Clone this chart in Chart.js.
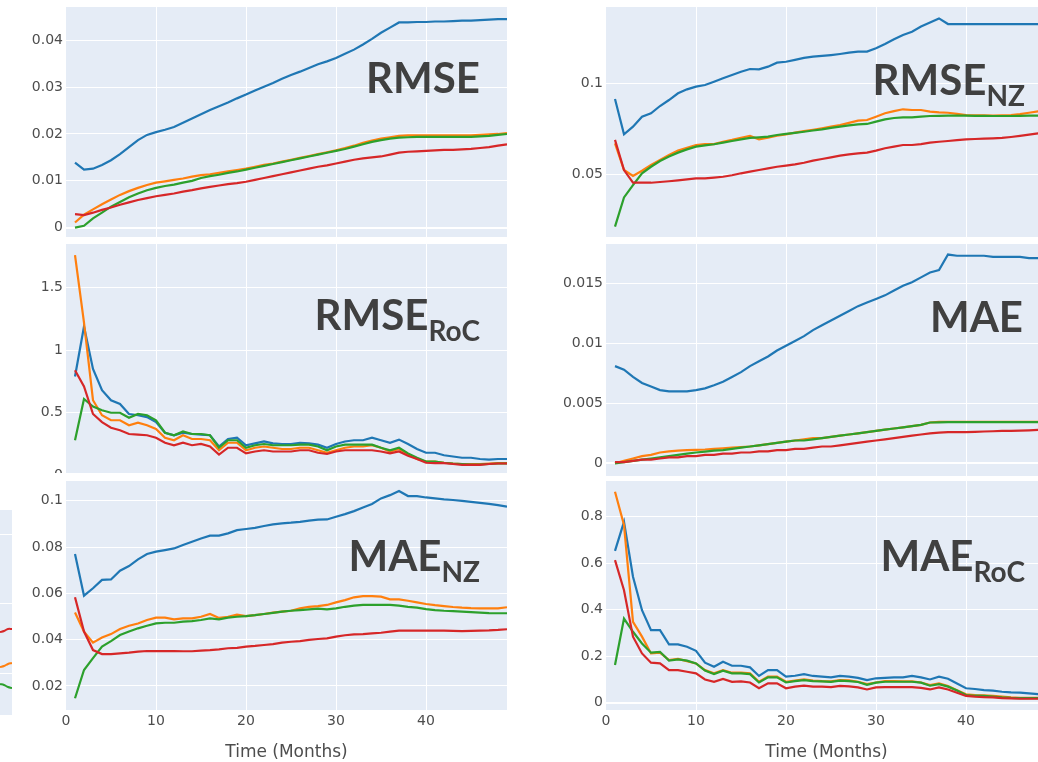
<!DOCTYPE html>
<html>
<head>
<meta charset="utf-8">
<script src="https://cdn.jsdelivr.net/npm/chart.js@4.4.0/dist/chart.umd.min.js"></script>
<style>
html,body{margin:0;padding:0;background:#fff;overflow:hidden;}
#page{position:relative;width:1038px;height:762px;overflow:hidden;background:#fff;}
canvas{position:absolute;display:block;}
.clip{position:absolute;overflow:hidden;}
.ttl{position:absolute;z-index:10;font-family:Lato,'Open Sans',sans-serif;font-weight:700;font-size:42px;line-height:42px;color:#404040;text-align:right;white-space:nowrap;}
.ttl sub{font-size:28px;line-height:1;vertical-align:-11px;}
</style>
</head>
<body>
<div id="page">
  <div class="clip" id="clip3" style="left:0;top:238px;width:515px;height:235px;"></div>
  <div class="ttl" style="left:0;width:480px;top:56px;">RMSE</div>
  <div class="ttl" style="left:540px;width:485px;top:58px;">RMSE<sub>NZ</sub></div>
  <div class="ttl" style="left:0;width:480px;top:293px;">RMSE<sub>RoC</sub></div>
  <div class="ttl" style="left:540px;width:483px;top:295px;">MAE</div>
  <div class="ttl" style="left:0;width:480px;top:534px;">MAE<sub>NZ</sub></div>
  <div class="ttl" style="left:540px;width:485px;top:534px;">MAE<sub>RoC</sub></div>
</div>
<script>
// ---------- data ----------
const months = [1,2,3,4,5,6,7,8,9,10,11,12,13,14,15,16,17,18,19,20,21,22,23,24,25,26,27,28,29,30,31,32,33,34,35,36,37,38,39,40,41,42,43,44,45,46,47,48,49];
const xTicks = [0,10,20,30,40];
const seriesColors = ['#1f77b4','#ff7f0e','#2ca02c','#d62728'];

// RMSE
const rmseBlue   = [0.0139,0.0124,0.0126,0.0134,0.0144,0.0157,0.0172,0.0187,0.0198,0.0204,0.0209,0.0215,0.0224,0.0233,0.0242,0.0251,0.0259,0.0267,0.0276,0.0284,0.0293,0.0301,0.0309,0.0318,0.0326,0.0333,0.0341,0.0349,0.0355,0.0362,0.0371,0.0380,0.0391,0.0403,0.0416,0.0427,0.0438,0.0438,0.0439,0.0439,0.0440,0.0440,0.0441,0.0442,0.0442,0.0443,0.0444,0.0445,0.0445];
const rmseOrange = [0.0011,0.0028,0.0039,0.0050,0.0060,0.0070,0.0078,0.0085,0.0091,0.0096,0.0099,0.0102,0.0105,0.0109,0.0112,0.0114,0.0117,0.0120,0.0123,0.0126,0.0130,0.0134,0.0137,0.0141,0.0145,0.0149,0.0153,0.0157,0.0161,0.0165,0.0170,0.0175,0.0181,0.0186,0.0190,0.0193,0.0196,0.0197,0.0197,0.0197,0.0197,0.0197,0.0197,0.0197,0.0197,0.0198,0.0199,0.0200,0.0202];
const rmseGreen  = [0.0000,0.0004,0.0020,0.0032,0.0045,0.0055,0.0065,0.0073,0.0080,0.0085,0.0089,0.0092,0.0096,0.0100,0.0106,0.0110,0.0113,0.0117,0.0120,0.0124,0.0128,0.0132,0.0136,0.0140,0.0144,0.0148,0.0152,0.0156,0.0160,0.0164,0.0168,0.0173,0.0178,0.0183,0.0187,0.0190,0.0192,0.0193,0.0194,0.0194,0.0194,0.0194,0.0194,0.0194,0.0194,0.0195,0.0196,0.0198,0.0200];
const rmseRed    = [0.0029,0.0027,0.0032,0.0038,0.0043,0.0049,0.0054,0.0059,0.0063,0.0067,0.0070,0.0073,0.0077,0.0080,0.0084,0.0087,0.0090,0.0093,0.0095,0.0098,0.0102,0.0106,0.0110,0.0114,0.0118,0.0122,0.0126,0.0130,0.0133,0.0137,0.0141,0.0145,0.0148,0.0150,0.0152,0.0156,0.0160,0.0162,0.0163,0.0164,0.0165,0.0166,0.0166,0.0167,0.0168,0.0170,0.0172,0.0175,0.0178];
const rmseTicks  = [0,0.01,0.02,0.03,0.04];

// RMSE_NZ
const rmseNzBlue   = [0.0914,0.0719,0.0761,0.0816,0.0835,0.0875,0.0908,0.0945,0.0967,0.0982,0.0991,0.1009,0.1028,0.1046,0.1064,0.1079,0.1077,0.1092,0.1114,0.1119,0.1129,0.1140,0.1147,0.1151,0.1156,0.1162,0.1169,0.1175,0.1175,0.1193,0.1217,0.1243,0.1267,0.1285,0.1313,0.1335,0.1358,0.1327,0.1327,0.1327,0.1327,0.1327,0.1327,0.1327,0.1327,0.1327,0.1327,0.1327,0.1327];
const rmseNzOrange = [0.0669,0.0522,0.0489,0.0518,0.0550,0.0577,0.0605,0.0629,0.0645,0.0660,0.0665,0.0665,0.0678,0.0688,0.0700,0.0710,0.0691,0.0700,0.0711,0.0719,0.0728,0.0737,0.0744,0.0752,0.0761,0.0770,0.0782,0.0794,0.0798,0.0816,0.0835,0.0847,0.0857,0.0853,0.0853,0.0844,0.0840,0.0838,0.0832,0.0825,0.0824,0.0823,0.0822,0.0823,0.0825,0.0830,0.0838,0.0845,0.0850];
const rmseNzGreen  = [0.0210,0.0371,0.0439,0.0504,0.0540,0.0572,0.0596,0.0618,0.0636,0.0651,0.0658,0.0664,0.0673,0.0682,0.0691,0.0699,0.0702,0.0706,0.0715,0.0721,0.0727,0.0733,0.0740,0.0746,0.0754,0.0761,0.0768,0.0774,0.0776,0.0789,0.0801,0.0809,0.0812,0.0812,0.0816,0.0820,0.0821,0.0822,0.0822,0.0822,0.0821,0.0821,0.0820,0.0820,0.0820,0.0821,0.0822,0.0822,0.0823];
const rmseNzRed    = [0.0688,0.0522,0.0452,0.0452,0.0452,0.0456,0.0460,0.0465,0.0470,0.0476,0.0476,0.0480,0.0485,0.0493,0.0504,0.0513,0.0522,0.0531,0.0540,0.0546,0.0553,0.0562,0.0574,0.0583,0.0592,0.0601,0.0608,0.0614,0.0618,0.0629,0.0642,0.0651,0.0660,0.0660,0.0665,0.0673,0.0678,0.0682,0.0687,0.0691,0.0693,0.0695,0.0697,0.0699,0.0704,0.0710,0.0717,0.0724,0.0730];
const rmseNzTicks  = [0.05,0.1];

// RMSE_RoC
const rmseRocBlue   = [0.79,1.19,0.85,0.68,0.60,0.57,0.49,0.48,0.465,0.425,0.34,0.32,0.34,0.33,0.325,0.32,0.23,0.29,0.30,0.24,0.255,0.27,0.255,0.25,0.25,0.26,0.255,0.245,0.22,0.25,0.27,0.28,0.28,0.30,0.28,0.26,0.285,0.25,0.21,0.18,0.18,0.16,0.15,0.14,0.14,0.13,0.125,0.13,0.13];
const rmseRocOrange = [1.76,1.22,0.60,0.48,0.44,0.44,0.40,0.42,0.40,0.37,0.30,0.28,0.32,0.29,0.29,0.28,0.20,0.26,0.26,0.20,0.22,0.23,0.22,0.21,0.21,0.22,0.22,0.20,0.18,0.20,0.22,0.23,0.23,0.24,0.22,0.19,0.21,0.17,0.13,0.11,0.11,0.10,0.094,0.09,0.09,0.09,0.094,0.097,0.097];
const rmseRocGreen  = [0.28,0.61,0.55,0.52,0.50,0.50,0.46,0.49,0.48,0.44,0.34,0.32,0.35,0.33,0.33,0.32,0.22,0.28,0.28,0.22,0.24,0.25,0.24,0.24,0.24,0.245,0.245,0.23,0.20,0.23,0.245,0.245,0.245,0.245,0.22,0.20,0.22,0.175,0.14,0.11,0.11,0.10,0.094,0.09,0.086,0.086,0.09,0.094,0.094];
const rmseRocRed    = [0.84,0.71,0.49,0.425,0.38,0.36,0.33,0.325,0.32,0.30,0.26,0.24,0.26,0.24,0.25,0.23,0.165,0.22,0.22,0.175,0.19,0.20,0.19,0.19,0.19,0.20,0.20,0.18,0.17,0.19,0.20,0.20,0.20,0.20,0.19,0.175,0.19,0.156,0.13,0.10,0.097,0.097,0.09,0.083,0.083,0.083,0.09,0.094,0.094];
const rmseRocTicks  = [0,0.5,1,1.5];

// MAE
const maeBlue   = [0.0081,0.0078,0.0072,0.0067,0.0064,0.0061,0.0060,0.0060,0.0060,0.0061,0.00625,0.0065,0.0068,0.0072,0.0076,0.0081,0.0085,0.0089,0.0094,0.0098,0.0102,0.0106,0.0111,0.0115,0.0119,0.0123,0.0127,0.0131,0.0134,0.0137,0.0140,0.0144,0.0148,0.0151,0.0155,0.0159,0.0161,0.0174,0.0173,0.0173,0.0173,0.0173,0.0172,0.0172,0.0172,0.0172,0.0171,0.0171,0.0171];
const maeOrange = [0.0000,0.0002,0.0004,0.0006,0.0007,0.0009,0.0010,0.00105,0.0011,0.00112,0.00115,0.0012,0.00125,0.0013,0.00135,0.0014,0.0015,0.0016,0.0017,0.0018,0.0019,0.0020,0.0021,0.0021,0.0022,0.0023,0.0024,0.0025,0.0026,0.0027,0.0028,0.0029,0.0030,0.0031,0.0032,0.0034,0.00345,0.00345,0.00345,0.00345,0.00345,0.00345,0.00345,0.00345,0.00345,0.00345,0.00345,0.00345,0.00345];
const maeGreen  = [0.0000,0.0001,0.0002,0.0003,0.0004,0.0005,0.0006,0.0007,0.0008,0.0009,0.00098,0.00105,0.0011,0.0012,0.0013,0.0014,0.0015,0.0016,0.0017,0.0018,0.0019,0.0019,0.0020,0.0021,0.0022,0.0023,0.0024,0.0025,0.0026,0.0027,0.0028,0.0029,0.0030,0.0031,0.0032,0.0034,0.00342,0.00343,0.00343,0.00343,0.00343,0.00343,0.00343,0.00343,0.00343,0.00343,0.00343,0.00343,0.00343];
const maeRed    = [0.0001,0.0001,0.0002,0.0003,0.0003,0.0004,0.0005,0.0005,0.0006,0.0006,0.0007,0.0007,0.0008,0.0008,0.0009,0.0009,0.0010,0.0010,0.0011,0.0011,0.0012,0.0012,0.0013,0.0014,0.0014,0.0015,0.0016,0.0017,0.0018,0.0019,0.0020,0.0021,0.0022,0.0023,0.0024,0.0025,0.00255,0.0026,0.0026,0.0026,0.00262,0.00265,0.00267,0.0027,0.0027,0.00272,0.00275,0.00278,0.0028];
const maeTicks  = [0,0.005,0.01,0.015];

// MAE_NZ
const maeNzBlue   = [0.077,0.059,0.0622,0.0658,0.066,0.0698,0.0718,0.0747,0.077,0.078,0.0787,0.0794,0.0809,0.0823,0.0837,0.0849,0.0849,0.0859,0.0873,0.0878,0.0883,0.0891,0.0898,0.0902,0.0905,0.0909,0.0914,0.0918,0.0919,0.0931,0.0942,0.0955,0.0971,0.0986,0.101,0.1024,0.1042,0.102,0.102,0.1014,0.101,0.1006,0.1003,0.0999,0.0995,0.0991,0.0986,0.0981,0.0974];
const maeNzOrange = [0.0517,0.0435,0.0387,0.0409,0.0424,0.0446,0.046,0.047,0.0485,0.0495,0.0495,0.0488,0.0492,0.0492,0.0499,0.0511,0.0494,0.0499,0.0508,0.0502,0.0506,0.0511,0.0517,0.0521,0.0525,0.0535,0.0542,0.0545,0.055,0.0561,0.0571,0.0583,0.0588,0.0588,0.0586,0.0574,0.0574,0.0568,0.0561,0.0554,0.0549,0.0545,0.0541,0.0538,0.0536,0.0535,0.0535,0.0535,0.054];
const maeNzGreen  = [0.0147,0.0269,0.032,0.037,0.0394,0.042,0.0435,0.0449,0.046,0.047,0.0473,0.0473,0.0478,0.048,0.0485,0.0492,0.0488,0.0495,0.0499,0.0502,0.0506,0.0511,0.0516,0.0521,0.0525,0.0528,0.0531,0.0534,0.0531,0.0535,0.0542,0.0547,0.055,0.055,0.055,0.055,0.0547,0.0542,0.0538,0.0532,0.0528,0.0525,0.0523,0.0521,0.0519,0.0517,0.0515,0.0514,0.0514];
const maeNzRed    = [0.0583,0.0435,0.0355,0.0338,0.0338,0.0341,0.0344,0.0348,0.0351,0.0351,0.0351,0.0351,0.035,0.035,0.0353,0.0355,0.0358,0.0363,0.0365,0.037,0.0373,0.0377,0.0381,0.0387,0.0391,0.0394,0.0399,0.0403,0.0406,0.0413,0.0419,0.0423,0.0424,0.0427,0.043,0.0435,0.0439,0.0439,0.0439,0.0439,0.0439,0.0439,0.0438,0.0437,0.0438,0.0439,0.044,0.0442,0.0445];
const maeNzTicks  = [0.02,0.04,0.06,0.08,0.1];

// MAE_RoC
const maeRocBlue   = [0.653,0.778,0.542,0.398,0.312,0.312,0.251,0.251,0.241,0.223,0.172,0.155,0.176,0.159,0.159,0.152,0.115,0.14,0.14,0.112,0.116,0.123,0.115,0.112,0.109,0.115,0.112,0.107,0.097,0.105,0.107,0.109,0.109,0.115,0.109,0.1,0.112,0.103,0.083,0.062,0.059,0.054,0.052,0.047,0.044,0.043,0.04,0.037,0.036];
const maeRocOrange = [0.907,0.764,0.348,0.284,0.212,0.215,0.183,0.188,0.179,0.169,0.14,0.126,0.14,0.129,0.129,0.126,0.09,0.112,0.112,0.09,0.095,0.1,0.095,0.093,0.092,0.097,0.096,0.09,0.08,0.087,0.093,0.093,0.092,0.092,0.087,0.076,0.083,0.072,0.054,0.036,0.033,0.032,0.029,0.026,0.023,0.021,0.021,0.021,0.021];
const maeRocGreen  = [0.162,0.362,0.305,0.255,0.215,0.219,0.181,0.186,0.181,0.169,0.138,0.123,0.138,0.126,0.126,0.123,0.087,0.109,0.109,0.087,0.093,0.097,0.093,0.092,0.09,0.095,0.093,0.089,0.077,0.086,0.09,0.09,0.09,0.09,0.086,0.073,0.08,0.069,0.052,0.033,0.03,0.029,0.026,0.023,0.021,0.02,0.02,0.02,0.02];
const maeRocRed    = [0.613,0.484,0.284,0.212,0.172,0.169,0.14,0.14,0.133,0.126,0.1,0.09,0.102,0.09,0.092,0.087,0.062,0.083,0.083,0.062,0.069,0.073,0.069,0.069,0.067,0.072,0.07,0.066,0.057,0.066,0.067,0.067,0.067,0.067,0.064,0.057,0.066,0.057,0.043,0.029,0.026,0.024,0.023,0.02,0.019,0.017,0.017,0.017,0.017];
const maeRocTicks  = [0,0.2,0.4,0.6,0.8];

// cropped neighbour panel at the left edge
const stubX      = [0,1,2,3];
const stubRed    = [1.60,1.614,1.643,1.643];
const stubOrange = [1.10,1.114,1.143,1.157];
const stubGreen  = [0.857,0.843,0.814,0.80];
const stubTicks  = [1,2,3];

const xTitle = 'Time (Months)';

// ---------- drawing ----------
Chart.defaults.font.family = "'DejaVu Sans', Verdana, sans-serif";
Chart.defaults.color = '#4d4d4d';
Chart.defaults.animation = false;

const bgPlugin = {
  id: 'plotBg',
  beforeDraw(chart) {
    const a = chart.chartArea, ctx = chart.ctx;
    ctx.save();
    ctx.fillStyle = '#E5ECF6';
    ctx.fillRect(a.left, a.top, a.right - a.left, a.bottom - a.top);
    ctx.restore();
  }
};

const page = document.getElementById('page');

function fmt(v) { return String(+v.toFixed(6)); }

function makePanel(p) {
  const padTop = 20;
  const xH = p.xLabels ? 60 : 0;
  const padBot = p.xLabels ? 0 : 20;
  const plotH = p.plotBottom - p.plotTop;
  const W = 66 + 441;
  const H = padTop + plotH + xH + padBot;
  const parent = p.parent || page;
  const offX = p.parentLeft || 0, offY = p.parentTop || 0;
  const cv = document.createElement('canvas');
  cv.width = W; cv.height = H;
  cv.style.width = W + 'px'; cv.style.height = H + 'px';
  cv.style.left = (p.plotLeft - 66 - offX) + 'px';
  cv.style.top = (p.plotTop - padTop - offY) + 'px';
  parent.appendChild(cv);

  const datasets = p.series.map((s, i) => ({
    data: s, borderColor: seriesColors[i], backgroundColor: seriesColors[i],
    borderWidth: 2.2, pointRadius: 0, tension: 0, fill: false
  }));
  // draw order like the reference: blue, orange, green, red (red on top)
  datasets.forEach((d, i) => d.order = 4 - i);

  new Chart(cv, {
    type: 'line',
    data: { labels: months, datasets },
    options: {
      responsive: false,
      devicePixelRatio: 1,
      layout: { padding: { top: padTop, bottom: padBot, left: 0, right: 0 } },
      plugins: { legend: { display: false }, tooltip: { enabled: false } },
      events: [],
      scales: {
        x: {
          type: 'linear', min: 0, max: 49,
          afterBuildTicks: s => { s.ticks = xTicks.map(v => ({ value: v })); },
          afterFit: s => { s.height = xH; },
          grid: { color: c => (c.tick && c.tick.value === 0) ? 'rgba(0,0,0,0)' : '#ffffff', lineWidth: 1, drawTicks: false },
          border: { display: false },
          ticks: { display: !!p.xLabels, padding: 3, font: { size: 14 }, color: '#4d4d4d', callback: v => fmt(v), maxRotation: 0, autoSkip: false },
          title: { display: !!p.xLabels, text: xTitle, font: { size: 17 }, color: '#4d4d4d', padding: { top: 0, bottom: 6.8 } }
        },
        y: {
          type: 'linear', min: p.yMin, max: p.yMax,
          afterBuildTicks: s => { s.ticks = p.yTicks.map(v => ({ value: v })); },
          afterFit: s => { s.width = 66; },
          grid: { color: '#ffffff', lineWidth: c => (c.tick && c.tick.value === 0) ? 2 : 1, drawTicks: false },
          border: { display: false },
          ticks: { padding: 3, font: { size: 14 }, color: '#4d4d4d', callback: v => fmt(v), autoSkip: false }
        }
      }
    },
    plugins: [bgPlugin]
  });
}

const panels = [
  { plotLeft: 66,  plotTop: 7,   plotBottom: 237, yMin: -0.00199, yMax: 0.0471, yTicks: rmseTicks,
    series: [rmseBlue, rmseOrange, rmseGreen, rmseRed] },
  { plotLeft: 606, plotTop: 7,   plotBottom: 237, yMin: 0.01527, yMax: 0.1421, yTicks: rmseNzTicks,
    series: [rmseNzBlue, rmseNzOrange, rmseNzGreen, rmseNzRed] },
  { plotLeft: 66,  plotTop: 244, plotBottom: 500, yMin: -0.198, yMax: 1.8496, yTicks: rmseRocTicks,
    series: [rmseRocBlue, rmseRocOrange, rmseRocGreen, rmseRocRed],
    parent: document.getElementById('clip3'), parentLeft: 0, parentTop: 238 },
  { plotLeft: 606, plotTop: 244, plotBottom: 476, yMin: -0.001058, yMax: 0.01828, yTicks: maeTicks,
    series: [maeBlue, maeOrange, maeGreen, maeRed] },
  { plotLeft: 66,  plotTop: 481, plotBottom: 710, yMin: 0.009637, yMax: 0.10851, yTicks: maeNzTicks,
    series: [maeNzBlue, maeNzOrange, maeNzGreen, maeNzRed], xLabels: true },
  { plotLeft: 606, plotTop: 481, plotBottom: 710, yMin: -0.0314, yMax: 0.95355, yTicks: maeRocTicks,
    series: [maeRocBlue, maeRocOrange, maeRocGreen, maeRocRed], xLabels: true }
];
panels.forEach(makePanel);

// cropped neighbouring panel (left edge)
(function () {
  const cv = document.createElement('canvas');
  cv.width = 12; cv.height = 205;
  cv.style.width = '12px'; cv.style.height = '205px';
  cv.style.left = '0px'; cv.style.top = '510px';
  page.appendChild(cv);
  const cols = ['#d62728', '#ff7f0e', '#2ca02c'];
  new Chart(cv, {
    type: 'line',
    data: { labels: stubX, datasets: [stubRed, stubOrange, stubGreen].map((s, i) => ({
      data: s, borderColor: cols[i], borderWidth: 2, pointRadius: 0, tension: 0.4, fill: false })) },
    options: {
      responsive: false, devicePixelRatio: 1, events: [],
      layout: { padding: 0 },
      plugins: { legend: { display: false }, tooltip: { enabled: false } },
      scales: {
        x: { type: 'linear', min: 0, max: 3, display: false },
        y: { type: 'linear', min: 0.414, max: 3.343,
             afterBuildTicks: s => { s.ticks = stubTicks.map(v => ({ value: v })); },
             afterFit: s => { s.width = 0; },
             grid: { color: '#ffffff', drawTicks: false }, border: { display: false },
             ticks: { display: false } }
      }
    },
    plugins: [bgPlugin]
  });
})();
</script>
</body>
</html>
